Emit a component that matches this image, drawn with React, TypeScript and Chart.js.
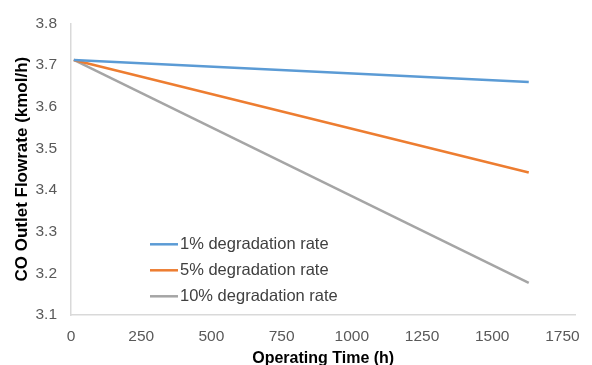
import React, { useEffect, useRef } from "react";
import { Chart, registerables } from "chart.js";

Chart.register(...registerables);

const seriesLabels = ["1% degradation rate", "5% degradation rate", "10% degradation rate"];
const times = [10, 1630];
const rate1 = [3.712, 3.659];
const rate5 = [3.712, 3.442];
const rate10 = [3.712, 3.177];
const colors = ["#5B9BD5", "#ED7D31", "#A5A5A5"];
const xTicks = [0, 250, 500, 750, 1000, 1250, 1500, 1750];

const FONT = "'Liberation Sans', Arial, sans-serif";

const legendPlugin = {
  id: "insideLegend",
  afterDraw(chart: any) {
    const { ctx, chartArea } = chart;
    ctx.save();
    chart.data.datasets.forEach((ds: any, i: number) => {
      const y = chartArea.top + 221 + i * 26;
      const x0 = chartArea.left + 79;
      ctx.strokeStyle = ds.borderColor;
      ctx.lineWidth = 2.5;
      ctx.beginPath();
      ctx.moveTo(x0, y);
      ctx.lineTo(x0 + 28, y);
      ctx.stroke();
      ctx.fillStyle = "#404040";
      ctx.font = `16.5px ${FONT}`;
      ctx.textBaseline = "middle";
      ctx.textAlign = "left";
      ctx.fillText(ds.label, x0 + 30, y);
    });
    ctx.restore();
  },
};

export default function App() {
  const ref = useRef<HTMLCanvasElement>(null);
  useEffect(() => {
    document.body.style.margin = "0";
    const series = [rate1, rate5, rate10];
    const chart = new Chart(ref.current!, {
      type: "scatter",
      data: {
        datasets: series.map((s, i) => ({
          label: seriesLabels[i],
          data: s.map((v, j) => ({ x: times[j], y: v })),
          showLine: true,
          borderColor: colors[i],
          backgroundColor: colors[i],
          borderWidth: 2.5,
          pointRadius: 0,
        })),
      },
      options: {
        animation: false,
        responsive: false,
        maintainAspectRatio: false,
        layout: { padding: { top: 20, right: 12, left: 0, bottom: 0 } },
        plugins: { legend: { display: false }, tooltip: { enabled: false } },
        scales: {
          x: {
            type: "linear",
            min: 0,
            max: 1796,
            afterBuildTicks: (scale: any) => {
              scale.ticks = xTicks.map((v) => ({ value: v }));
            },
            afterFit: (scale: any) => {
              scale.height = 50;
            },
            grid: { display: false, drawTicks: false },
            border: { display: true, color: "#D9D9D9", width: 1.5 },
            ticks: {
              color: "#595959",
              font: { family: FONT, size: 15.5 },
              padding: 12,
              maxRotation: 0,
              autoSkip: false,
              callback: (v: any) => String(v),
            },
            title: {
              display: true,
              text: "Operating Time (h)",
              color: "#000",
              font: { family: FONT, size: 16, weight: "bold", lineHeight: 1 },
              padding: { top: 0, bottom: -2 },
            },
          },
          y: {
            min: 3.1,
            max: 3.8,
            afterFit: (scale: any) => {
              scale.width = 71;
            },
            grid: { display: false, drawTicks: false },
            border: { display: true, color: "#D9D9D9", width: 1.5 },
            ticks: {
              stepSize: 0.1,
              color: "#595959",
              font: { family: FONT, size: 15.5 },
              padding: 14,
              callback: (v: any) => Number(v).toFixed(1),
            },
            title: {
              display: true,
              text: "CO Outlet Flowrate (kmol/h)",
              color: "#000",
              font: { family: FONT, size: 17, weight: "bold", lineHeight: 1 },
              padding: { top: 14, bottom: 0 },
            },
          },
        },
      },
      plugins: [legendPlugin],
    });
    return () => chart.destroy();
  }, []);
  return (
    <div style={{ width: 592, height: 365, background: "#fff" }}>
      <canvas ref={ref} width={592} height={365} />
    </div>
  );
}
